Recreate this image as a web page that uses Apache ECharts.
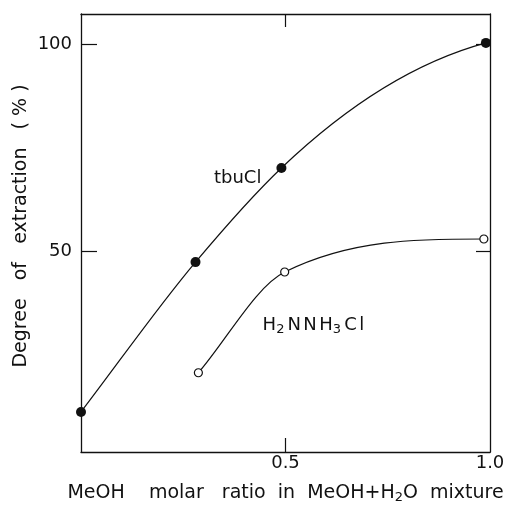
<!DOCTYPE html>
<html><head><meta charset="utf-8">
<script src="https://cdn.jsdelivr.net/npm/echarts@6/dist/echarts.min.js"></script>
<style>html,body{margin:0;padding:0;background:#fff}#c{width:505px;height:505px}</style>
</head><body><div id="c"></div>
<script>
// data
const tbuX = [0.0, 0.28, 0.49, 0.99];
const tbuY = [11, 47.3, 70.1, 100.4];
const hzX = [0.287, 0.498, 0.985];
const hzY = [20.5, 44.9, 52.9];
const yTicks = [50, 100];
const xTicks = [0.5, 1.0];
const FONT = 'DejaVu Sans';
const INK = '#111';

// smooth curve (shape-preserving cubic Hermite) through pixel points
function curvePath(pts) {
  const n = pts.length, h = [], d = [], m = [];
  for (let i = 0; i < n - 1; i++) {
    h[i] = pts[i + 1][0] - pts[i][0];
    d[i] = (pts[i + 1][1] - pts[i][1]) / h[i];
  }
  m[0] = d[0];
  for (let i = 1; i < n - 1; i++) {
    if (d[i - 1] * d[i] <= 0) { m[i] = 0; continue; }
    const b = (h[i] * d[i - 1] + h[i - 1] * d[i]) / (h[i - 1] + h[i]);
    const lim = 3 * Math.min(Math.abs(d[i - 1]), Math.abs(d[i]));
    m[i] = Math.sign(b) * Math.min(Math.abs(b), lim);
  }
  let e = 2 * d[n - 2] - m[n - 2];
  if (e * d[n - 2] < 0) e = 0;
  if (Math.abs(e) > 3 * Math.abs(d[n - 2])) e = 3 * d[n - 2];
  m[n - 1] = e;
  let p = 'M' + pts[0][0] + ' ' + pts[0][1];
  for (let i = 0; i < n - 1; i++) {
    const [x0, y0] = pts[i], [x1, y1] = pts[i + 1], k = h[i] / 3;
    p += ' C' + (x0 + k) + ' ' + (y0 + m[i] * k) + ' ' + (x1 - k) + ' ' + (y1 - m[i + 1] * k) + ' ' + x1 + ' ' + y1;
  }
  return p;
}
function curveSeries(xs, ys) {
  return {
    type: 'custom', coordinateSystem: 'cartesian2d', clip: false, silent: true, z: 2,
    data: [[xs[0], ys[0]]],
    renderItem: (params, api) => {
      const pts = xs.map((x, i) => api.coord([x, ys[i]]));
      return {type: 'path', shape: {pathData: curvePath(pts)},
              style: {fill: 'none', stroke: INK, lineWidth: 1.2}};
    }
  };
}

const chart = echarts.init(document.getElementById('c'), null, {renderer: 'canvas'});
const tick = {show: true, inside: true, length: 15, lineStyle: {color: INK, width: 1.2}};
const line = {show: true, onZero: false, lineStyle: {color: INK, width: 1.3}};
const sub = {fontFamily: FONT, fontSize: 13, color: INK, lineHeight: 12, verticalAlign: 'bottom'};
chart.setOption({
  animation: false,
  backgroundColor: '#fff',
  grid: {left: 81, right: 15, top: 14, bottom: 53, outerBoundsMode: 'none', containLabel: false},
  xAxis: [
    {type: 'value', min: 0, max: 1.0, position: 'bottom', axisLine: line,
     axisTick: Object.assign({}, tick, {customValues: [0.5], length: 14}),
     axisLabel: {customValues: xTicks, formatter: v => v.toFixed(1), color: INK, fontFamily: FONT, fontSize: 18, margin: 2},
     splitLine: {show: false},
     name: '{a|MeOH    molar   ratio  in  MeOH+H}{s|2}{a|O  mixture}',
     nameLocation: 'middle', nameGap: 30, nameMoveOverlap: false,
     nameTextStyle: {rich: {a: {fontFamily: FONT, fontSize: 19, color: INK, lineHeight: 22}, s: sub}}},
    {type: 'value', min: 0, max: 1.0, position: 'top', axisLine: line,
     axisTick: Object.assign({}, tick, {customValues: [0.5], length: 13}),
     axisLabel: {show: false}, splitLine: {show: false}}
  ],
  yAxis: [
    {type: 'value', min: 1.3, max: 107.4, position: 'left', axisLine: line,
     axisTick: Object.assign({}, tick, {customValues: yTicks, length: 16}),
     axisLabel: {customValues: yTicks, color: INK, fontFamily: FONT, fontSize: 18, margin: 9},
     splitLine: {show: false},
     name: 'Degree   of   extraction   ( % )', nameLocation: 'middle', nameGap: 50, nameMoveOverlap: false,
     nameTextStyle: {fontFamily: FONT, fontSize: 19, color: INK, padding: [0, 0, 0, 14]}},
    {type: 'value', min: 1.3, max: 107.4, position: 'right', axisLine: line,
     axisTick: Object.assign({}, tick, {customValues: yTicks, length: 14}),
     axisLabel: {show: false}, splitLine: {show: false}}
  ],
  series: [
    curveSeries(tbuX, tbuY),
    curveSeries(hzX, hzY),
    {type: 'scatter', name: 'tbuCl', data: tbuX.map((x, i) => [x, tbuY[i]]), z: 3,
     symbol: 'circle', symbolSize: 10, itemStyle: {color: INK, opacity: 1}},
    {type: 'scatter', name: 'H2NNH3Cl', data: hzX.map((x, i) => [x, hzY[i]]), z: 3,
     symbol: 'circle', symbolSize: 8, itemStyle: {color: '#fff', borderColor: INK, borderWidth: 1.2, opacity: 1}}
  ]
});

const p1 = chart.convertToPixel({xAxisIndex: 0, yAxisIndex: 0}, [0.325, 67.6]);
const p2 = chart.convertToPixel({xAxisIndex: 0, yAxisIndex: 0}, [0.444, 32.1]);
const big = {fontFamily: FONT, fontSize: 18, fill: INK, lineHeight: 22, padding: [0, 2.5, 0, 0]};
const bigTight = {fontFamily: FONT, fontSize: 18, fill: INK, lineHeight: 22};
const small = {fontFamily: FONT, fontSize: 13, fill: INK, lineHeight: 12, verticalAlign: 'bottom', padding: [0, 3, 0, 0]};
chart.setOption({
  graphic: [
    {type: 'text', x: p1[0], y: p1[1], z: 10, style: {text: 'tbuCl', font: '18px "DejaVu Sans"', fill: INK, textAlign: 'left', textVerticalAlign: 'middle'}},
    {type: 'text', x: p2[0], y: p2[1], z: 10, style: {text: '{h|H}{s|2}{a|N}{a|N}{h|H}{s|3}{a|C}{h|l}', fill: INK, textAlign: 'left', textVerticalAlign: 'middle',
      rich: {a: big, h: bigTight, s: small}}}
  ]
});
</script></body></html>
